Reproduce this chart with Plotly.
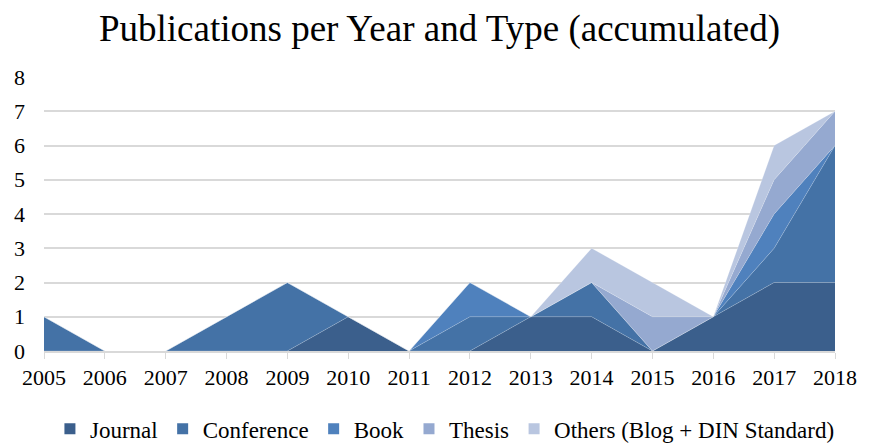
import plotly.graph_objects as go

years = [2005, 2006, 2007, 2008, 2009, 2010, 2011, 2012, 2013, 2014, 2015, 2016, 2017, 2018]
journal = [0, 0, 0, 0, 0, 1, 0, 0, 1, 1, 0, 1, 2, 2]
conference = [1, 0, 0, 1, 2, 0, 0, 1, 0, 1, 0, 0, 1, 4]
book = [0, 0, 0, 0, 0, 0, 0, 1, 0, 0, 0, 0, 1, 0]
thesis = [0, 0, 0, 0, 0, 0, 0, 0, 0, 0, 1, 0, 1, 1]
others = [0, 0, 0, 0, 0, 0, 0, 0, 0, 1, 1, 0, 1, 0]

series = [
    ("Journal", journal, "#3B5F8C"),
    ("Conference", conference, "#4472A6"),
    ("Book", book, "#4F81BD"),
    ("Thesis", thesis, "#95A9D0"),
    ("Others (Blog + DIN Standard)", others, "#B9C6E0"),
]

font = "Times New Roman, Liberation Serif, serif"
fig = go.Figure()
for name, vals, col in series:
    fig.add_trace(go.Scatter(
        x=years, y=vals, name=name, mode="lines", stackgroup="one", showlegend=False,
        line=dict(width=0.5, color="rgba(255,255,255,0.4)"), fillcolor=col,
    ))
# legend entries with square swatches
for name, vals, col in series:
    fig.add_trace(go.Scatter(
        x=[None], y=[None], name=name, mode="markers",
        marker=dict(symbol="square", size=11, color=col),
    ))

fig.update_layout(
    width=869, height=443,
    margin=dict(l=44, r=26, t=77, b=92),
    paper_bgcolor="white", plot_bgcolor="white",
    font=dict(family=font, size=22, color="black"),
    title=dict(text="Publications per Year and Type (accumulated)", x=0.5, xanchor="center",
               xref="paper", y=0.937, yanchor="middle", font=dict(family=font, size=37, color="black")),
    showlegend=True,
    legend=dict(orientation="h", xref="container", x=0.512, xanchor="center",
                yref="container", y=0.032, yanchor="middle",
                font=dict(family=font, size=23), traceorder="normal", itemwidth=30),
    xaxis=dict(tickmode="array", tickvals=years, ticktext=[str(y) for y in years],
               range=[2005, 2018], showgrid=False, showline=True, linecolor="#D9D9D9",
               linewidth=1.5, ticks="outside", tickcolor="#D9D9D9", ticklen=6,
               tickfont=dict(family=font, size=22), zeroline=False),
    yaxis=dict(range=[0, 8], dtick=1, showgrid=True, gridcolor="#D9D9D9", gridwidth=1.5,
               zeroline=False, showline=False, ticks="", tickfont=dict(family=font, size=22),
               ticklabelstandoff=18),
)

fig.write_html("out.html")
